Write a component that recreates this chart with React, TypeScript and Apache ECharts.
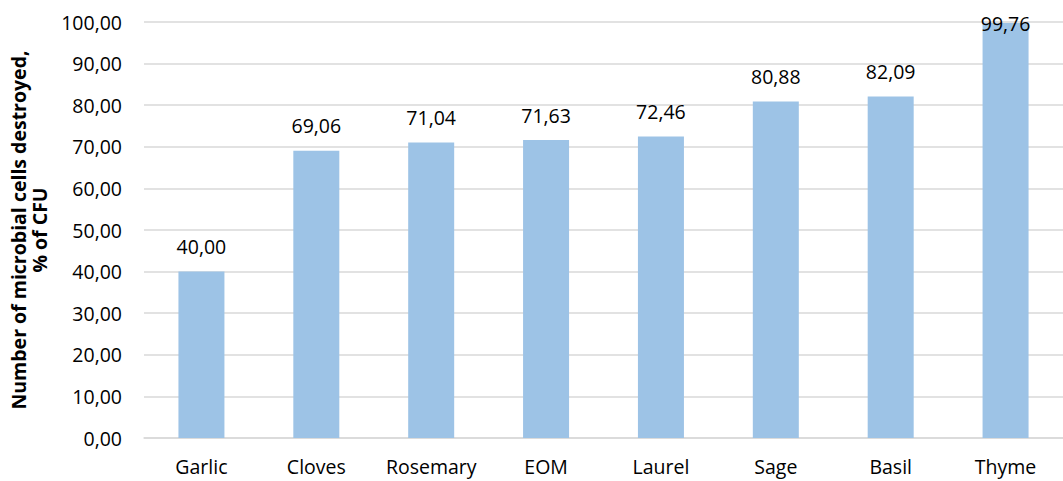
import React, { useEffect, useRef } from "react";
import * as echarts from "echarts";

const categories = ["Garlic", "Cloves", "Rosemary", "EOM", "Laurel", "Sage", "Basil", "Thyme"];
const values = [40.0, 69.06, 71.04, 71.63, 72.46, 80.88, 82.09, 99.76];
const yTicks = [0, 10, 20, 30, 40, 50, 60, 70, 80, 90, 100];
const axisTitle = "Number of microbial cells destroyed,\n% of CFU";

const FONT = "'Open Sans', sans-serif";
const SIZE = 19.5;
const fmt = (v: number) => v.toFixed(2).replace(".", ",");

export default function App() {
  const ref = useRef<HTMLDivElement>(null);

  useEffect(() => {
    if (!ref.current) return;
    const chart = echarts.init(ref.current, null, { renderer: "svg" });
    const last = values.length - 1;
    chart.setOption({
      animation: false,
      grid: { left: 144, top: 22, right: -7, bottom: 43, containLabel: false },
      xAxis: {
        type: "category",
        data: categories,
        axisLine: { lineStyle: { color: "#d9d9d9", width: 1.5 } },
        axisTick: { show: false },
        axisLabel: { color: "#000", fontFamily: FONT, fontSize: SIZE, margin: 18, interval: 0, hideOverlap: false },
      },
      yAxis: {
        type: "value",
        min: yTicks[0],
        max: yTicks[yTicks.length - 1],
        interval: 10,
        name: axisTitle,
        nameLocation: "middle",
        nameRotate: 90,
        nameGap: 93,
        nameTextStyle: { color: "#000", fontFamily: FONT, fontSize: SIZE, fontWeight: "bold", lineHeight: 21 },
        axisLine: { show: false },
        axisTick: { show: false },
        axisLabel: { color: "#000", fontFamily: FONT, fontSize: SIZE, margin: 22, formatter: (v: number) => fmt(v) },
        splitLine: { lineStyle: { color: "#d9d9d9", width: 1.5 } },
      },
      series: [
        {
          type: "bar",
          barWidth: 46,
          itemStyle: { color: "#9dc3e6" },
          data: values.map((v, i) =>
            i === last
              ? { value: v, label: { position: "insideTop", distance: 0, offset: [0, -9] } }
              : v
          ),
          label: {
            show: true,
            position: "top",
            distance: 15,
            color: "#000",
            fontFamily: FONT,
            fontSize: SIZE,
            formatter: (p: any) => fmt(p.value),
          },
        },
      ],
    });
    return () => chart.dispose();
  }, []);

  return <div ref={ref} style={{ width: 1063, height: 481, position: "absolute", left: 0, top: 0 }} />;
}
